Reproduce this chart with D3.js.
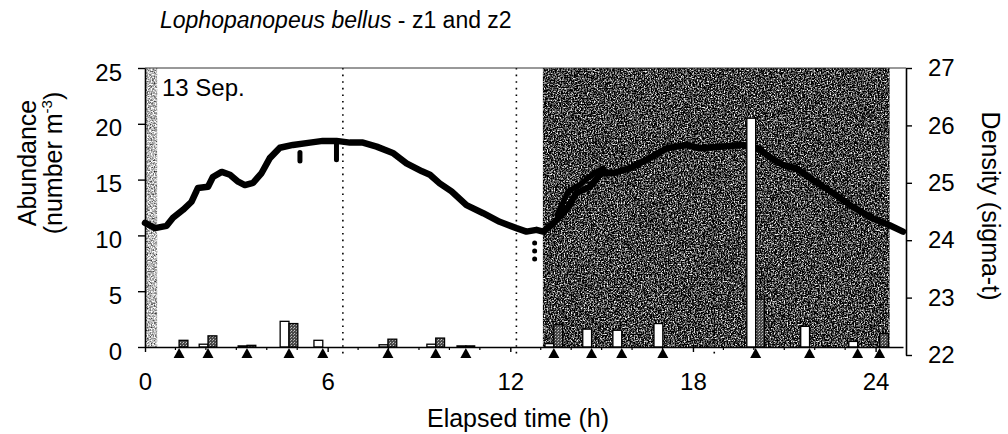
<!DOCTYPE html>
<html>
<head>
<meta charset="utf-8">
<script src="https://cdn.jsdelivr.net/npm/d3@7"></script>
<style>
  body { margin: 0; background: #fff; }
  svg text { font-family: "Liberation Sans", Arial, sans-serif; fill: #000; }
</style>
</head>
<body>
<svg width="1008" height="434"></svg>
<script>
// sampling times (h) and abundances (number m^-3)
const sampleTimes = [1.12, 2.07, 3.35, 4.73, 5.84, 7.98, 9.55, 10.54, 13.43, 14.67, 15.66, 17.01, 20.06, 21.83, 23.41, 24.13];
const z1 = [0, 0.25, 0.1, 2.3, 0.6, 0.2, 0.25, 0.1, 0.3, 1.6, 1.5, 2.1, 20.5, 1.85, 0.5, 0];
const z2 = [0.6, 1.0, 0.15, 2.1, 0, 0.7, 0.8, 0.1, 2.0, 0, 0, 0, 4.3, 0, 0, 1.2];

// density record (sigma-t)
const densityT = [0, 0.33, 0.71, 0.92, 1.25, 1.53, 1.74, 2.07, 2.23, 2.52, 2.79, 3.06, 3.28, 3.55, 3.83, 4.1, 4.43, 4.86,
  5.42, 5.84, 6.29, 6.73, 7.16, 7.61, 8.14, 8.59, 9.1, 9.36, 9.68, 10.07, 10.56, 11.11, 11.65, 12.2, 12.53, 12.86, 13.08,
  13.41, 13.84, 14.17, 14.61, 14.99, 15.37, 15.92, 16.47, 17.13, 17.78, 18.22, 18.88, 19.64, 20.14, 20.52, 20.96, 21.4,
  21.94, 22.6, 23.25, 23.91, 24.46, 24.9];
const densityS = [24.3, 24.21, 24.25, 24.39, 24.53, 24.67, 24.91, 24.93, 25.1, 25.19, 25.14, 25.02, 24.96, 25.0, 25.17, 25.43, 25.61, 25.66,
  25.7, 25.73, 25.73, 25.7, 25.7, 25.63, 25.52, 25.34, 25.2, 25.14, 24.99, 24.85, 24.61, 24.47, 24.32, 24.21, 24.15, 24.18, 24.15,
  24.29, 24.53, 24.82, 24.93, 25.17, 25.17, 25.25, 25.4, 25.6, 25.66, 25.6, 25.63, 25.66, 25.6, 25.45, 25.31, 25.25,
  25.05, 24.82, 24.58, 24.38, 24.26, 24.15];
// second trace seen between 13.5 and 15 h
const trace2T = [13.55, 13.9, 14.3, 14.7, 15.05];
const trace2S = [24.45, 24.85, 24.97, 25.15, 25.25];
// short stray segments off the main trace: time, top, bottom
const strayT = [12.8, 5.09, 6.29];
const strayTop = [23.95, 25.53, 25.7];
const strayBottom = [23.64, 25.38, 25.4];

const nightPeriods = [[13.07, 24.46]];
const twilightPeriods = [[0, 0.4]];
const tideTimes = [6.5, 12.2, 18.7];

const xTicks = [0, 6, 12, 18, 24];
const abundanceTicks = [0, 5, 10, 15, 20, 25];
const densityTicks = [22, 23, 24, 25, 26, 27];

const svg = d3.select("svg");
const x = d3.scaleLinear().domain([0, 24.9]).range([145, 903]);
const yA = d3.scaleLinear().domain([0, 25]).range([347, 68]);
const yD = d3.scaleLinear().domain([22, 27]).range([355, 68]);
const barW = 0.29;

const defs = svg.append("defs");
function noiseFilter(id, freq, slope, intercept, seed) {
  const f = defs.append("filter").attr("id", id)
    .attr("x", 0).attr("y", 0).attr("width", 1).attr("height", 1)
    .attr("color-interpolation-filters", "sRGB");
  f.append("feTurbulence").attr("type", "fractalNoise").attr("baseFrequency", freq)
    .attr("numOctaves", 3).attr("seed", seed).attr("result", "n");
  const row = `${slope} 0 0 0 ${intercept}`;
  f.append("feColorMatrix").attr("in", "n").attr("type", "matrix")
    .attr("values", `${row} ${row} ${row} 0 0 0 0 1`).attr("result", "g");
  f.append("feComposite").attr("in", "g").attr("in2", "SourceGraphic").attr("operator", "in");
}
noiseFilter("darkNoise", 0.7, 2.6, -1.06, 4);
noiseFilter("lightNoise", 0.7, 1.6, -0.08, 7);

const stipple = defs.append("pattern").attr("id", "stipple")
  .attr("width", 3).attr("height", 3).attr("patternUnits", "userSpaceOnUse");
stipple.append("rect").attr("width", 3).attr("height", 3).attr("fill", "#4a4a4a");
stipple.append("rect").attr("x", 0).attr("y", 0).attr("width", 1).attr("height", 1).attr("fill", "#c8c8c8");
stipple.append("rect").attr("x", 2).attr("y", 1).attr("width", 1).attr("height", 1).attr("fill", "#a0a0a0");

// shading
svg.append("g").selectAll("rect").data(twilightPeriods).join("rect")
  .attr("x", d => x(d[0])).attr("width", d => x(d[1]) - x(d[0]))
  .attr("y", yA(25)).attr("height", yA(0) - yA(25))
  .attr("fill", "#999").attr("filter", "url(#lightNoise)");
svg.append("g").selectAll("rect").data(nightPeriods).join("rect")
  .attr("x", d => x(d[0])).attr("width", d => x(d[1]) - x(d[0]))
  .attr("y", yA(25)).attr("height", yA(0) - yA(25))
  .attr("fill", "#333").attr("filter", "url(#darkNoise)");

// tide lines
svg.append("g").selectAll("line").data(tideTimes).join("line")
  .attr("x1", d => x(d)).attr("x2", d => x(d))
  .attr("y1", yA(25)).attr("y2", yA(0) + 10)
  .attr("stroke", "#000").attr("stroke-width", 1.6)
  .attr("stroke-dasharray", "1.6,5");

// density
const line = d3.line().x(d => x(d[0])).y(d => yD(d[1]));
svg.append("path").datum(d3.zip(densityT, densityS))
  .attr("d", line).attr("fill", "none").attr("stroke", "#000")
  .attr("stroke-width", 6.5).attr("stroke-linejoin", "round").attr("stroke-linecap", "round");
svg.append("path").datum(d3.zip(trace2T, trace2S))
  .attr("d", line).attr("fill", "none").attr("stroke", "#000")
  .attr("stroke-width", 5.5).attr("stroke-linejoin", "round").attr("stroke-linecap", "round");
svg.append("g").selectAll("line").data(d3.zip(strayT, strayTop, strayBottom)).join("line")
  .attr("x1", d => x(d[0])).attr("x2", d => x(d[0]))
  .attr("y1", d => yD(d[1])).attr("y2", d => yD(d[2]))
  .attr("stroke", "#000").attr("stroke-width", 5).attr("stroke-linecap", "round")
  .attr("stroke-dasharray", (d, i) => i === 0 ? "0,8" : null);

// bars
const bars = svg.append("g");
bars.selectAll("rect.z1").data(d3.zip(sampleTimes, z1).filter(d => d[1] > 0)).join("rect")
  .attr("class", "z1")
  .attr("x", d => x(d[0] - barW)).attr("width", x(barW) - x(0))
  .attr("y", d => yA(d[1])).attr("height", d => yA(0) - yA(d[1]))
  .attr("fill", "#fff").attr("stroke", "#000").attr("stroke-width", 1.3);
bars.selectAll("rect.z2").data(d3.zip(sampleTimes, z2).filter(d => d[1] > 0)).join("rect")
  .attr("class", "z2")
  .attr("x", d => x(d[0])).attr("width", x(barW) - x(0))
  .attr("y", d => yA(d[1])).attr("height", d => yA(0) - yA(d[1]))
  .attr("fill", "url(#stipple)").attr("stroke", "#000").attr("stroke-width", 1.3);

// frame top
svg.append("line").attr("x1", x(0)).attr("x2", 906).attr("y1", yA(25)).attr("y2", yA(25))
  .attr("stroke", "#333").attr("stroke-width", 1);

// axes
function styleAxis(g, size) {
  g.selectAll("path.domain").attr("stroke", "#000").attr("stroke-width", 1.6);
  g.selectAll(".tick line").attr("stroke", "#000").attr("stroke-width", 1.4);
  g.selectAll("text").attr("font-size", size).attr("fill", "#000");
}
const gx = svg.append("g").attr("transform", `translate(0,${yA(0)})`)
  .call(d3.axisBottom(x).tickValues(xTicks).tickFormat(d3.format("d")).tickSize(5).tickSizeOuter(0).tickPadding(20));
styleAxis(gx, 24);
gx.selectAll("text").attr("dy", "0.73em");
svg.append("g").selectAll("line").data(d3.range(1, 25).filter(h => h % 6 !== 0)).join("line")
  .attr("x1", d => x(d)).attr("x2", d => x(d)).attr("y1", yA(0)).attr("y2", yA(0) + 3)
  .attr("stroke", "#000").attr("stroke-width", 1.2);

const gl = svg.append("g").attr("transform", `translate(${x(0)},0)`)
  .call(d3.axisLeft(yA).tickValues(abundanceTicks).tickFormat(d3.format("d")).tickSize(7).tickSizeOuter(0).tickPadding(16));
styleAxis(gl, 24);
gl.selectAll("text").attr("dy", "0.5em");

const gr = svg.append("g").attr("transform", "translate(906,0)")
  .call(d3.axisRight(yD).tickValues(densityTicks).tickFormat(d3.format("d")).tickSize(6).tickSizeOuter(0).tickPadding(16));
styleAxis(gr, 24);

// sampling triangles
svg.append("g").selectAll("path").data(sampleTimes).join("path")
  .attr("d", d => `M${x(d)},${yA(0) + 1}L${x(d) + 5.5},${yA(0) + 11}L${x(d) - 5.5},${yA(0) + 11}Z`)
  .attr("fill", "#000");

// text
const title = svg.append("text").attr("x", 160).attr("y", 28).attr("font-size", 23);
title.append("tspan").attr("font-style", "italic").text("Lophopanopeus bellus");
title.append("tspan").text(" - z1 and z2");

svg.append("text").attr("x", 162).attr("y", 96).attr("font-size", 24).text("13 Sep.");

svg.append("text").attr("x", 518).attr("y", 427).attr("font-size", 25)
  .attr("text-anchor", "middle").text("Elapsed time (h)");

svg.append("text").attr("transform", "translate(36,163) rotate(-90)")
  .attr("font-size", 25).attr("text-anchor", "middle").text("Abundance");
const yl = svg.append("text").attr("transform", "translate(62,163) rotate(-90)")
  .attr("font-size", 25).attr("text-anchor", "middle");
yl.append("tspan").text("(number m");
yl.append("tspan").attr("font-size", 15).attr("dy", -10).text("-3");
yl.append("tspan").attr("dy", 10).text(")");

svg.append("text").attr("transform", "translate(982,206) rotate(90)")
  .attr("font-size", 25).attr("text-anchor", "middle").text("Density (sigma-t)");
</script>
</body>
</html>
